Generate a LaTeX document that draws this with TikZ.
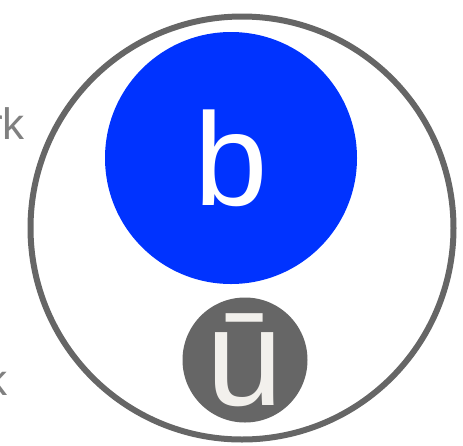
\documentclass[tikz,border=0pt]{standalone}
\usepackage{xcolor}
\usepackage{fontspec}
\setmainfont{Liberation Sans}
\usetikzlibrary{positioning}

\definecolor{shellgray}{HTML}{666666}
\definecolor{quarkblue}{HTML}{0033FF}
\definecolor{antigray}{HTML}{666666}
\definecolor{antitext}{HTML}{F2F0EC}
\definecolor{labelgray}{HTML}{808080}

\begin{document}
\begin{tikzpicture}[
  x=1pt, y=-1pt,
  shell/.style={circle, draw=shellgray, line width=6pt, minimum size=423pt, inner sep=0pt},
  quark/.style={circle, fill=quarkblue, text=white, minimum size=252pt, inner sep=0pt, font=\fontsize{132}{132}\selectfont},
  antiquark/.style={circle, fill=antigray, text=antitext, minimum size=125pt, inner sep=0pt, font=\fontsize{138}{138}\selectfont},
  tag/.style={text=labelgray, inner sep=0pt, font=\fontsize{44}{44}\selectfont}
]
\useasboundingbox (0,0) rectangle (463,445);

\node (meson) [shell] at (242,228) {};
\node (bquark) [quark] at (231,158) {b};
\node (uanti) [antiquark] at (245,360) {ū};

\node (quarktag) [tag, anchor=base east] at (25,139) {rk};
\node (antitag) [tag, anchor=base east] at (8,395) {k};

\end{tikzpicture}
\end{document}
